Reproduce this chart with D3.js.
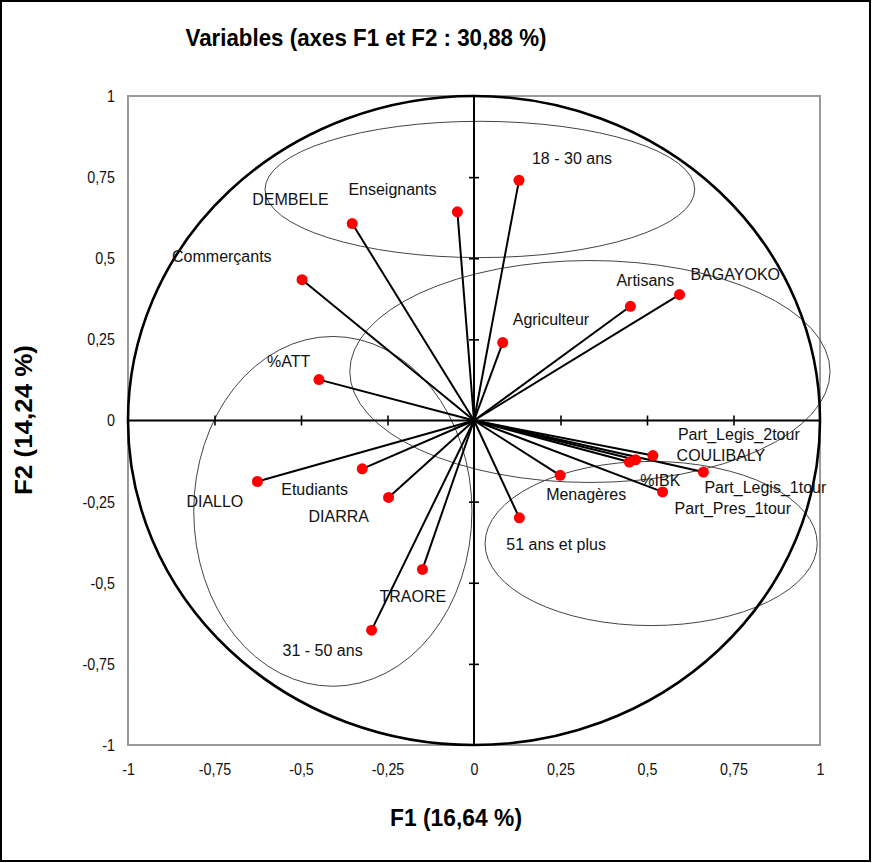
<!DOCTYPE html>
<html><head><meta charset="utf-8">
<script src="https://cdn.jsdelivr.net/npm/d3@7"></script>
<style>
html,body{margin:0;padding:0;background:#fff;}
svg{display:block;}
</style></head>
<body>
<svg id="c" width="872" height="863"></svg>
<script>
// ---- data ----
const titleText = "Variables (axes F1 et F2 : 30,88 %)";
const xTitle = "F1 (16,64 %)";
const yTitle = "F2 (14,24 %)";
const tickValues = [-1, -0.75, -0.5, -0.25, 0, 0.25, 0.5, 0.75, 1];
const tickLabels = ["-1", "-0,75", "-0,5", "-0,25", "0", "0,25", "0,5", "0,75", "1"];
const variables = ["DEMBELE","Enseignants","18 - 30 ans","Commerçants","Artisans","BAGAYOKO","Agriculteur","%ATT",
  "DIALLO","Etudiants","DIARRA","TRAORE","31 - 50 ans","Part_Legis_2tour","COULIBALY","%IBK",
  "Part_Legis_1tour","Part_Pres_1tour","Menagères","51 ans et plus"];
const f1 = [-0.352,-0.048,0.130,-0.497,0.452,0.594,0.083,-0.448,
  -0.626,-0.323,-0.247,-0.149,-0.296,0.517,0.467,0.449,
  0.663,0.545,0.249,0.131];
const f2 = [0.607,0.643,0.740,0.434,0.352,0.388,0.240,0.126,
  -0.188,-0.149,-0.237,-0.459,-0.646,-0.108,-0.121,-0.128,
  -0.159,-0.220,-0.169,-0.300];
// group ellipses (data units): centre x, centre y, radius x, radius y
const groupCx = [0.017, 0.335, -0.408, 0.512];
const groupCy = [0.712, 0.151, -0.280, -0.379];
const groupRx = [0.621, 0.694, 0.402, 0.480];
const groupRy = [0.210, 0.342, 0.539, 0.253];

// ---- layout (label offsets in px from the point) ----
const labelDx = [-100,-109,13,-130,-14,11,10,-52, -71,-81,-80,-43,-89,25,41,11, 1,12,-14,-13];
const labelDy = [-24,-22,-22,-23,-26,-20,-23,-18, 20,21,19,27,20,-21,-4,18, 15,17,19,27];

const svg = d3.select("#c");
const x = d3.scaleLinear().domain([-1,1]).range([128,820]);
const y = d3.scaleLinear().domain([-1,1]).range([745,96]);
const narrow = "'Liberation Sans Narrow','Arial Narrow','Liberation Sans',Arial,sans-serif";
const reg = "'Liberation Sans',Arial,sans-serif";

// outer border
svg.append("rect").attr("x",1).attr("y",1).attr("width",869).attr("height",860)
  .attr("fill","#fff").attr("stroke","#000").attr("stroke-width",2);

// plot frame
svg.append("rect").attr("x",x(-1)).attr("y",y(1)).attr("width",x(1)-x(-1)).attr("height",y(-1)-y(1))
  .attr("fill","none").attr("stroke","#9a9a9a").attr("stroke-width",2);

// tick labels via axes
const fmt = d => tickLabels[tickValues.indexOf(d)];
const gx = svg.append("g").attr("transform",`translate(0,${y(-1)})`)
  .call(d3.axisBottom(x).tickValues(tickValues).tickFormat(fmt).tickSize(0).tickPadding(18));
const gy = svg.append("g").attr("transform",`translate(${x(-1)},0)`)
  .call(d3.axisLeft(y).tickValues(tickValues).tickFormat(fmt).tickSize(0).tickPadding(13));
[gx,gy].forEach(g=>{
  g.select(".domain").remove();
  g.selectAll("text").attr("font-family",narrow).attr("font-size",17).attr("fill","#111")
    .each(function(){
      const w = this.getComputedTextLength();
      d3.select(this).attr("textLength", w*0.84).attr("lengthAdjust","spacingAndGlyphs");
    });
});

// group ellipses
svg.append("g").selectAll("ellipse").data(groupCx).join("ellipse")
  .attr("cx",(d,i)=>x(groupCx[i])).attr("cy",(d,i)=>y(groupCy[i]))
  .attr("rx",(d,i)=>x(groupRx[i])-x(0)).attr("ry",(d,i)=>y(0)-y(groupRy[i]))
  .attr("fill","none").attr("stroke","#444").attr("stroke-width",1);

// correlation circle
svg.append("ellipse").attr("cx",x(0)).attr("cy",y(0))
  .attr("rx",x(1)-x(0)).attr("ry",y(0)-y(1))
  .attr("fill","none").attr("stroke","#000").attr("stroke-width",2.6);

// centre axes
svg.append("line").attr("x1",x(-1)).attr("x2",x(1)).attr("y1",y(0)).attr("y2",y(0))
  .attr("stroke","#000").attr("stroke-width",2);
svg.append("line").attr("x1",x(0)).attr("x2",x(0)).attr("y1",y(1)).attr("y2",y(-1))
  .attr("stroke","#000").attr("stroke-width",2);
const inner = tickValues.filter(v=>v!==0 && Math.abs(v)!==1);
const cxAxis = svg.append("g").attr("transform",`translate(0,${y(0)-5})`)
  .call(d3.axisBottom(x).tickValues(inner).tickFormat("").tickSize(10));
const cyAxis = svg.append("g").attr("transform",`translate(${x(0)+5},0)`)
  .call(d3.axisLeft(y).tickValues(inner).tickFormat("").tickSize(10));
[cxAxis,cyAxis].forEach(g=>{
  g.select(".domain").remove();
  g.selectAll("line").attr("stroke","#000").attr("stroke-width",1.6);
});

// vectors
svg.append("g").selectAll("line").data(variables).join("line")
  .attr("x1",x(0)).attr("y1",y(0))
  .attr("x2",(d,i)=>x(f1[i])).attr("y2",(d,i)=>y(f2[i]))
  .attr("stroke","#000").attr("stroke-width",2);

// points
svg.append("g").selectAll("circle").data(variables).join("circle")
  .attr("cx",(d,i)=>x(f1[i])).attr("cy",(d,i)=>y(f2[i])).attr("r",5.5)
  .attr("fill","#ff0000");

// labels
svg.append("g").selectAll("text").data(variables).join("text")
  .attr("x",(d,i)=>x(f1[i])+labelDx[i]).attr("y",(d,i)=>y(f2[i])+labelDy[i])
  .attr("dy","0.35em")
  .attr("font-family",reg).attr("font-size",16).attr("fill","#111")
  .text(d=>d);

// titles
svg.append("text").attr("x",366).attr("y",38).attr("dy","0.35em").attr("text-anchor","middle")
  .attr("font-family",narrow).attr("font-weight","bold").attr("font-size",24)
  .attr("textLength",361).attr("lengthAdjust","spacingAndGlyphs").text(titleText);
svg.append("text").attr("x",456).attr("y",818).attr("dy","0.35em").attr("text-anchor","middle")
  .attr("font-family",narrow).attr("font-weight","bold").attr("font-size",24)
  .attr("textLength",132).attr("lengthAdjust","spacingAndGlyphs").text(xTitle);
svg.append("text").attr("transform","translate(24,420) rotate(-90)").attr("dy","0.35em").attr("text-anchor","middle")
  .attr("font-family",narrow).attr("font-weight","bold").attr("font-size",24)
  .attr("textLength",150).attr("lengthAdjust","spacingAndGlyphs").text(yTitle);
</script>
</body></html>
